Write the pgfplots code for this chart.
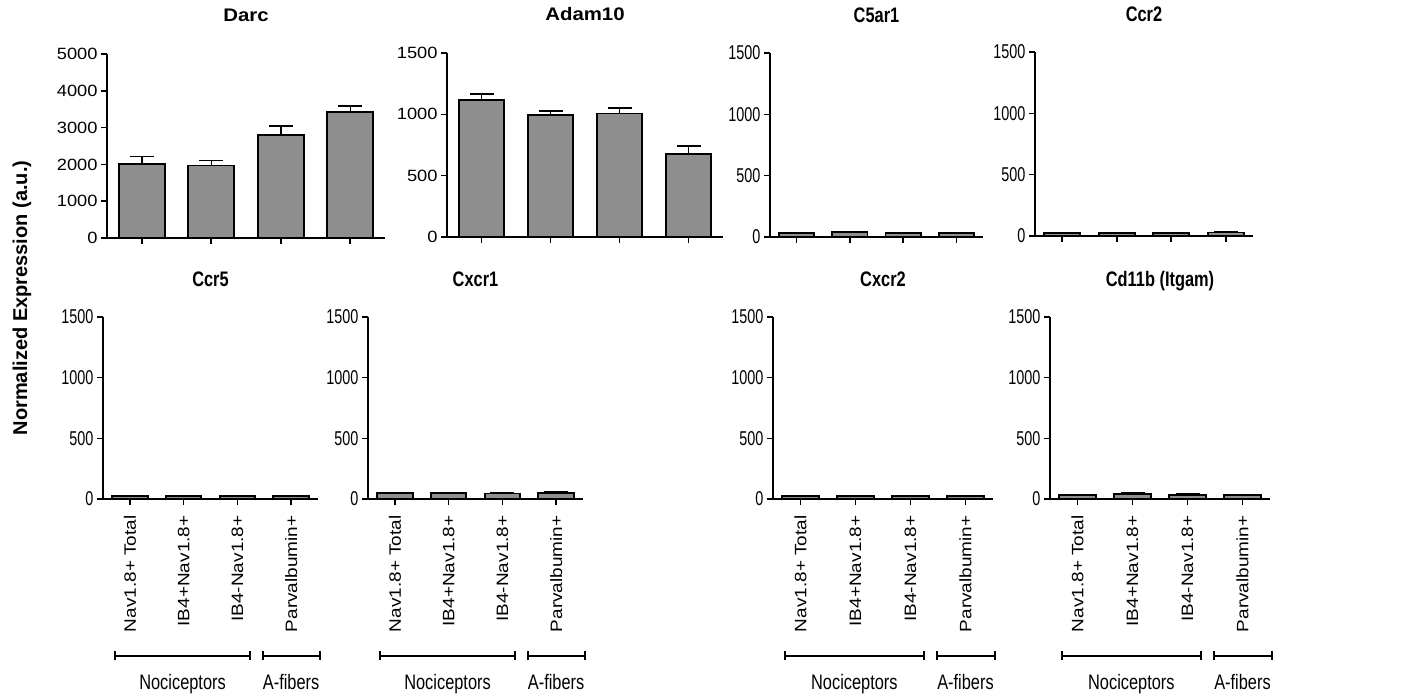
\documentclass[border=0pt]{standalone}
\usepackage{fontspec}
\setmainfont{Liberation Sans}
\newfontfamily\wideF[FakeStretch=1.12]{Liberation Sans}
\newfontfamily\narrowF[FakeStretch=0.72]{Liberation Sans}
\newfontfamily\titleF[FakeStretch=0.78]{Liberation Sans}
\newfontfamily\rotF[FakeStretch=1.15]{Liberation Sans}
\usepackage{pgfplots}
\pgfplotsset{compat=1.18}
\usetikzlibrary{arrows.meta}
\definecolor{barfill}{HTML}{8E8E8E}
\newcommand{\tickfont}{\narrowF\fontsize{20}{20}\selectfont}
\newcommand{\titlefont}{\titleF\fontsize{21}{21}\selectfont\bfseries}
\newcommand{\wtickfont}{\wideF\fontsize{16.3}{16.3}\selectfont}
\newcommand{\wtitlefont}{\wideF\fontsize{18.2}{18.2}\selectfont\bfseries}
\newcommand{\groupfont}{\titleF\fontsize{21}{21}\selectfont}
\newcommand{\rotfont}{\rotF\fontsize{16.5}{16.5}\selectfont}
\pgfplotsset{
  panel/.style={
    scale only axis,
    anchor=south west,
    axis x line*=bottom,
    axis y line*=left,
    axis line style={line width=2pt},
    tick align=outside,
    major tick length=6pt,
    every tick/.style={line width=1.6pt, black},
    xmin=-0.5, xmax=3.5,
    ymin=0,
    xtick={0,1,2,3},
    xticklabels={},
    ytick distance=500,
    ymax=1500,
    ticklabel style={font=\tickfont},
    /pgf/number format/assume math mode=true,
    /pgf/number format/1000 sep={},
    title style={font=\titlefont, at={(0.5,1)}, anchor=base, yshift=24pt},
    clip=false,
    ybar,
    bar width=0.66,
  },
  widepanel/.style={
    panel,
    ticklabel style={font=\wtickfont},
    title style={font=\wtitlefont, yshift=2pt},
  },
  bars/.style={
    fill=barfill, draw=black, line width=1.8pt,
    error bars/.cd, y dir=plus, y explicit,
    error bar style={line width=1.5pt},
    error mark options={rotate=90, mark size=12pt, line width=1.5pt},
  },
  bottompanel/.style={
    panel,
    xticklabels={Nav1.8+ Total, IB4+Nav1.8+, IB4-Nav1.8+, Parvalbumin+},
    x tick label style={rotate=90, anchor=east, xshift=-7pt, font=\rotfont},
  },
}
\newcommand{\groups}{%
  \draw[line width=2pt, {Bar[width=9pt]}-{Bar[width=9pt]}] ([yshift=-157pt]axis cs:-0.3,0) -- ([yshift=-157pt]axis cs:2.26,0);
  \draw[line width=2pt, {Bar[width=9pt]}-{Bar[width=9pt]}] ([yshift=-157pt]axis cs:2.46,0) -- ([yshift=-157pt]axis cs:3.55,0);
  \node[anchor=base, font=\groupfont, inner sep=0pt] at ([yshift=-191pt]axis cs:0.98,0) {Nociceptors};
  \node[anchor=base, font=\groupfont, inner sep=0pt] at ([yshift=-191pt]axis cs:3.0,0) {A-fibers};
}
\begin{document}
\begin{tikzpicture}
\useasboundingbox (0pt,0pt) rectangle (1422pt,698pt);
% ---------- top row ----------
\begin{axis}[widepanel, at={(107pt,460pt)}, width=278pt, height=184pt,
  ymax=5000, ytick distance=1000, title={Darc}]
\addplot[bars] coordinates {(0,2010) +- (0,210) (1,1970) +- (0,140) (2,2790) +- (0,250) (3,3420) +- (0,170)};
\end{axis}
\begin{axis}[widepanel, at={(447pt,461pt)}, width=276pt, height=184pt, title={Adam10}]
\addplot[bars] coordinates {(0,1115) +- (0,50) (1,993) +- (0,35) (2,1006) +- (0,46) (3,677) +- (0,63)};
\end{axis}
\begin{axis}[panel, at={(770pt,461pt)}, width=213pt, height=184pt, title={C5ar1}]
\addplot[bars] coordinates {(0,30) +- (0,5) (1,38) +- (0,5) (2,30) +- (0,5) (3,31) +- (0,6)};
\end{axis}
\begin{axis}[panel, at={(1035pt,462pt)}, width=218pt, height=184pt, title={Ccr2}]
\addplot[bars] coordinates {(0,27) +- (0,3) (1,27) +- (0,3) (2,26) +- (0,3) (3,28) +- (0,3)};
\end{axis}
% ---------- bottom row ----------
\begin{axis}[bottompanel, at={(103pt,199pt)}, width=215pt, height=182pt, title={Ccr5}]
\addplot[bars] coordinates {(0,22) +- (0,3) (1,25) +- (0,3) (2,22) +- (0,3) (3,23) +- (0,3)};
\groups
\end{axis}
\begin{axis}[bottompanel, at={(368pt,199pt)}, width=215pt, height=182pt, title={Cxcr1}]
\addplot[bars] coordinates {(0,48) +- (0,4) (1,47) +- (0,4) (2,46) +- (0,4) (3,52) +- (0,4)};
\groups
\end{axis}
\begin{axis}[bottompanel, at={(773pt,199pt)}, width=220pt, height=182pt, title={Cxcr2}]
\addplot[bars] coordinates {(0,25) +- (0,3) (1,25) +- (0,3) (2,24) +- (0,3) (3,25) +- (0,3)};
\groups
\end{axis}
\begin{axis}[bottompanel, at={(1050pt,199pt)}, width=220pt, height=182pt, title={Cd11b (Itgam)}]
\addplot[bars] coordinates {(0,33) +- (0,6) (1,42) +- (0,8) (2,35) +- (0,6) (3,33) +- (0,6)};
\groups
\end{axis}
\node[rotate=90, font=\fontsize{20}{20}\selectfont\bfseries] at (22pt,400pt) {Normalized Expression (a.u.)};
\end{tikzpicture}
\end{document}
